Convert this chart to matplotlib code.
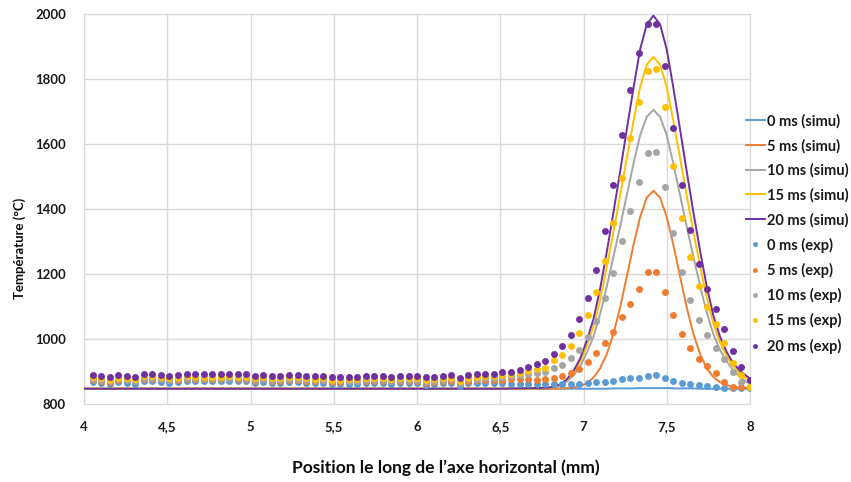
import numpy as np
import matplotlib
matplotlib.use('Agg')
import matplotlib.pyplot as plt

plt.rcParams['font.family'] = ['Lato', 'DejaVu Sans']

# temps (ms) des séries
labels_ms = ['0', '5', '10', '15', '20']
colors = ['#5B9BD5', '#ED7D31', '#A5A5A5', '#FFC000', '#7030A0']

# simulation
sim_x = [4.0, 6.5, 6.7, 6.78, 6.82, 6.86, 6.90, 6.94, 6.98, 7.02, 7.06, 7.10, 7.14, 7.18,
         7.22, 7.26, 7.30, 7.34, 7.38, 7.42, 7.46, 7.50, 7.54, 7.58, 7.62, 7.66, 7.70,
         7.74, 7.78, 7.82, 7.86, 7.90, 7.94, 7.98, 8.0]
sim_0 = [847, 847, 847, 847, 847, 847, 847, 847, 847, 847, 847, 847, 847, 848, 848, 848, 848,
         849, 849, 849, 849, 849, 848, 848, 848, 848, 847, 847, 847, 847, 847, 847, 847, 847, 847]
sim_5 = [847, 847, 847, 847, 847, 848, 849, 851, 855, 864, 881, 910, 954, 1016, 1097, 1192,
         1289, 1375, 1435, 1456, 1435, 1375, 1289, 1192, 1097, 1016, 954, 910, 883, 867, 858,
         853, 850, 849, 849]
sim_10 = [847, 847, 848, 849, 851, 857, 869, 888, 916, 958, 1007, 1077, 1162, 1253, 1346, 1443,
          1539, 1627, 1684, 1705, 1684, 1627, 1539, 1443, 1346, 1253, 1164, 1082, 1015, 966,
          931, 903, 883, 868, 862]
sim_15 = [847, 847, 848, 850, 852, 859, 873, 896, 930, 979, 1038, 1121, 1222, 1330, 1441, 1557,
          1670, 1775, 1844, 1868, 1844, 1775, 1670, 1557, 1441, 1330, 1225, 1127, 1047, 989,
          947, 916, 893, 878, 868]
sim_20 = [847, 847, 849, 850, 853, 860, 876, 902, 940, 995, 1062, 1155, 1268, 1390, 1515, 1645,
          1772, 1891, 1968, 1995, 1968, 1891, 1772, 1645, 1515, 1390, 1272, 1162, 1072, 1007,
          960, 925, 902, 886, 879]

# mesures (pas régulier de ~0.051 mm)
exp_x = np.linspace(4.052, 8.0, 78)
exp_0 = [868, 865, 861, 867, 866, 863, 871, 871, 869, 866, 867, 871, 870, 870, 870, 870, 872, 870, 870,
         865, 869, 865, 865, 868, 868, 865, 864, 866, 861, 861, 863, 863, 865, 865, 865, 863, 865, 865, 865,
         860, 862, 864, 866, 856, 864, 865, 866, 866, 864, 862, 862, 862, 861, 861,
         862, 862, 862, 862, 866, 868, 869, 870, 876, 879, 881,
         887, 889, 879, 872, 866, 862, 858, 855, 851, 848, 848, 848, 848]
exp_5 = [875, 872, 868, 874, 873, 870, 878, 878, 876, 873, 874, 878, 877, 877, 877, 877, 879, 877, 877,
         872, 876, 872, 872, 875, 875, 872, 871, 873, 868, 868, 870, 870, 872, 872, 872, 870, 872, 872, 872,
         866, 868, 870, 872, 864, 872, 873, 874, 874, 875, 876, 876, 876, 875, 876,
         881, 886, 894, 907, 928, 956, 987, 1021, 1069, 1107, 1154,
         1205, 1207, 1146, 1073, 1014, 971, 940, 918, 894, 867, 852, 851, 851]
exp_10 = [877, 874, 870, 876, 875, 872, 880, 880, 878, 875, 876, 880, 879, 879, 879, 879, 881, 879, 879,
          874, 878, 874, 874, 877, 877, 874, 873, 875, 870, 870, 872, 872, 874, 874, 874, 872, 874, 874, 874,
          869, 871, 874, 876, 866, 876, 878, 880, 881, 884, 886, 888, 891, 894, 897,
          910, 920, 941, 966, 1007, 1056, 1127, 1204, 1302, 1394, 1484,
          1573, 1576, 1467, 1325, 1205, 1120, 1058, 1012, 973, 940, 900, 869, 852]
exp_15 = [882, 879, 875, 881, 880, 877, 885, 885, 883, 880, 881, 885, 884, 884, 884, 884, 886, 884, 884,
          879, 883, 879, 879, 882, 882, 879, 878, 880, 875, 875, 877, 877, 879, 879, 879, 877, 879, 879, 879,
          874, 876, 879, 881, 871, 881, 883, 885, 886, 890, 892, 896, 903, 908, 912,
          935, 951, 979, 1020, 1074, 1144, 1241, 1358, 1494, 1620, 1730,
          1825, 1830, 1713, 1531, 1373, 1251, 1164, 1100, 1046, 987, 925, 888, 852]
exp_20 = [889, 886, 882, 888, 887, 884, 892, 892, 890, 887, 888, 892, 891, 891, 891, 891, 893, 891, 891,
          886, 890, 886, 886, 889, 889, 886, 885, 887, 882, 882, 884, 884, 886, 886, 886, 884, 886, 886, 886,
          882, 884, 887, 889, 879, 889, 891, 893, 893, 899, 900, 905, 915, 922, 933,
          954, 978, 1012, 1061, 1126, 1212, 1333, 1474, 1628, 1766, 1881,
          1969, 1969, 1840, 1649, 1474, 1335, 1231, 1155, 1091, 1031, 963, 915, 874]

sims = [sim_0, sim_5, sim_10, sim_15, sim_20]
exps = [exp_0, exp_5, exp_10, exp_15, exp_20]

fig = plt.figure(figsize=(8.51, 4.82), dpi=100)
ax = fig.add_axes([84/851, 78/482, 666/851, 390/482])

for lab, col, y in zip(labels_ms, colors, sims):
  ax.plot(sim_x, y, '-', color=col, lw=1.4, label=f'{lab} ms (simu)', zorder=3)
for lab, col, y in zip(labels_ms, colors, exps):
  ax.plot(exp_x, y, 'o', color=col, ms=5, mew=0, label=f'{lab} ms (exp)', zorder=4)

ax.set_xlim(4, 8)
ax.set_ylim(800, 2000)
ax.set_xticks(np.arange(4, 8.01, 0.5))
ax.set_xticklabels(['4', '4,5', '5', '5,5', '6', '6,5', '7', '7,5', '8'])
ax.set_yticks(np.arange(800, 2001, 200))
ax.grid(True, color='#D9D9D9', lw=1)
ax.set_axisbelow(True)
for s in ax.spines.values():
  s.set_color('#D9D9D9')
ax.tick_params(length=0, labelsize=9.5, colors='#1A1A1A')
ax.tick_params(axis='x', pad=12)
ax.tick_params(axis='y', pad=13)
for t in ax.get_xticklabels() + ax.get_yticklabels():
  t.set_fontweight('bold')

fig.text(446/851, 1 - 468/482, 'Position le long de l’axe horizontal (mm)',
         ha='center', va='center', fontsize=12.5, fontweight='bold', color='#0D0D0D')
fig.text(20/851, 1 - 248/482, 'Température (°C)', rotation=90,
         ha='center', va='center', fontsize=9.5, fontweight='bold', color='#0D0D0D')

leg = ax.legend(loc='upper left', bbox_to_anchor=(746/851, 1 - 114/482),
                bbox_transform=fig.transFigure, frameon=False, fontsize=10.5,
                handlelength=1.3, handletextpad=0.15, labelspacing=0.7,
                borderpad=0, borderaxespad=0, markerscale=0.7)
for t in leg.get_texts():
  t.set_fontweight('bold')
  t.set_color('#1A1A1A')

plt.savefig('out.png', dpi=100)
